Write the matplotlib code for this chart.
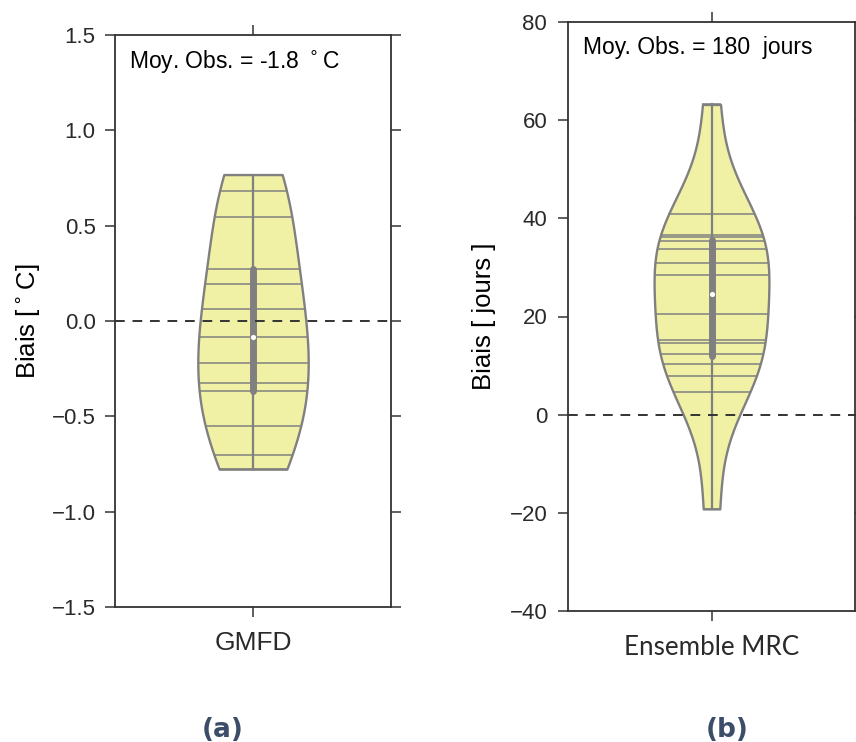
import matplotlib
matplotlib.use('Agg')
import matplotlib.pyplot as plt
import numpy as np
import seaborn as sns

plt.rcParams['font.family'] = ['Liberation Sans', 'DejaVu Sans']

# biais des simulations
gmfd_bias = [0.768, 0.68, 0.544, 0.272, 0.193, 0.061, -0.084,
             -0.219, -0.325, -0.368, -0.553, -0.702, -0.777]
mrc_bias = [63.2, 40.8, 36.7, 36.2, 35.4, 33.8, 31.0, 28.5,
            20.6, 15.3, 14.5, 12.4, 10.4, 7.8, 4.6, -19.2]

FILL = '#f1f1a6'
GREY = '#808080'


def draw_violin(ax, label, vals):
    sns.violinplot(x=[label] * len(vals), y=vals, ax=ax, cut=0, inner='stick',
                   width=0.4, color=FILL, saturation=1, linecolor=GREY,
                   linewidth=1.7, inner_kws={'linewidth': 1.1, 'color': GREY})
    q1, med, q3 = np.percentile(vals, [25, 50, 75])
    ax.plot([0, 0], [min(vals), max(vals)], color=GREY, lw=1.6, zorder=3)
    ax.plot([0, 0], [q1, q3], color=GREY, lw=5, solid_capstyle='round', zorder=4)
    ax.scatter([0], [med], s=14, color='white', zorder=5, linewidths=0)
    ax.axhline(0, color='#333333', lw=1.4, ls=(0, (5, 4)), zorder=6)
    ax.set_xlim(-0.5, 0.5)
    ax.tick_params(direction='out', length=7, width=1.1, top=True, right=True,
                   labelsize=16, pad=7, colors='#333333', labelcolor='#2a2a2a')
    for s in ax.spines.values():
        s.set_linewidth(1.3)
        s.set_color('#333333')


fig = plt.figure(figsize=(8.56, 7.42), dpi=100)

ax1 = fig.add_axes([115 / 856, 1 - 607 / 742, 276 / 856, 572 / 742])
draw_violin(ax1, 'GMFD', gmfd_bias)
ax1.set_ylim(-1.5, 1.5)
ax1.set_yticks(np.arange(-1.5, 1.51, 0.5))
ax1.set_ylabel(r'Biais [$^\circ$C]', fontsize=18.5)
ax1.yaxis.set_label_coords(-0.315, 0.5)
ax1.yaxis.label.set_va('center')
ax1.tick_params(axis='x', labelsize=19, pad=10)
ax1.text(0.05, 0.953, r'Moy. Obs. = -1.8 $^\circ$C', transform=ax1.transAxes,
         fontsize=16.5, va='center', ha='left')

ax2 = fig.add_axes([568 / 856, 1 - 611 / 742, 287 / 856, 589 / 742])
draw_violin(ax2, 'Ensemble MRC', mrc_bias)
ax2.set_ylim(-40, 80)
ax2.set_yticks(np.arange(-40, 81, 20))
ax2.set_ylabel('Biais [ jours ]', fontsize=18.5)
ax2.yaxis.set_label_coords(-0.293, 0.5)
ax2.yaxis.label.set_va('center')
ax2.tick_params(axis='y', pad=8)
ax2.tick_params(axis='x', labelsize=18.7, pad=10.5)
for t in ax2.get_xticklabels():
    t.set_family(['Lato', 'DejaVu Sans'])
ax2.text(0.052, 0.956, 'Moy. Obs. = 180  jours', transform=ax2.transAxes,
         fontsize=16.5, va='center', ha='left')

fig.text(223 / 856, 1 - 730 / 742, '(a)', fontsize=19, fontweight='bold',
         color='#3c4d69', family='DejaVu Sans', ha='center', va='center')
fig.text(727 / 856, 1 - 730 / 742, '(b)', fontsize=19, fontweight='bold',
         color='#3c4d69', family='DejaVu Sans', ha='center', va='center')

fig.savefig('out.png', dpi=100)
